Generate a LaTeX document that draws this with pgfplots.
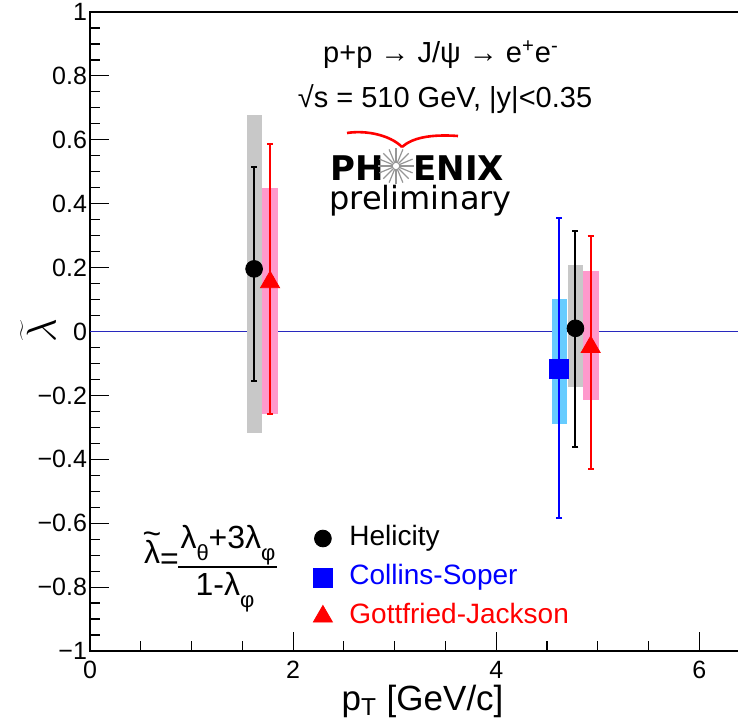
\documentclass[border=0pt]{standalone}
\usepackage{fontspec}
\setmainfont{Liberation Sans}
\newfontfamily\djv{DejaVu Sans}
\usepackage{pgfplots}
\pgfplotsset{compat=1.18}
\usepackage{pgfplotstable}
\definecolor{boxgray}{RGB}{200,200,200}
\definecolor{boxpink}{RGB}{255,153,204}
\definecolor{boxblue}{RGB}{102,204,255}
\definecolor{starg}{RGB}{150,150,150}
\definecolor{zline}{RGB}{40,40,190}
\newcommand\rsub[1]{\raisebox{-0.38em}{\fontsize{11}{11}\selectfont #1}}
\newcommand\tfont{\fontsize{12.5}{12.5}\selectfont}

% x, y, sys+, sys-, stat+, stat-
\pgfplotstableread{
x y sp sm ep em
1.616 0.196 0.482 0.514 0.318 0.352
4.78 0.01 0.197 0.185 0.303 0.370
}\hel
\pgfplotstableread{
x y sp sm ep em
4.62 -0.116 0.219 0.172 0.470 0.469
}\cs
\pgfplotstableread{
x y sp sm ep em
1.773 0.163 0.287 0.421 0.423 0.421
4.93 -0.04 0.228 0.173 0.340 0.390
}\gj

\begin{document}
\begin{tikzpicture}
\path[use as bounding box] (0,0) rectangle (369pt,361.5pt);
\begin{axis}[
  at={(45pt,36pt)}, anchor=south west,
  scale only axis, width=326pt, height=319.5pt,
  xmin=0, xmax=6.42, ymin=-1, ymax=1,
  axis line style={line width=0.8pt},
  xtick={0,2,4,6}, xticklabels={0,2,4,6}, minor x tick num=3,
  ytick={-1,-0.8,-0.6,-0.4,-0.2,0,0.2,0.4,0.6,0.8,1},
  yticklabels={−1,−0.8,−0.6,−0.4,−0.2,0,0.2,0.4,0.6,0.8,1},
  minor y tick num=3,
  xtick pos=bottom, ytick pos=left, tick align=inside,
  major tick length=9.5pt, minor tick length=5pt,
  every tick/.style={black, line width=0.6pt},
  yticklabel style={font=\tfont, xshift=2pt},
  xticklabel style={font=\tfont, yshift=-1.5pt},
  xlabel={p\textsubscript{T} [GeV/c]},
  every axis x label/.style={at={(axis description cs:0.51,0)}, anchor=base, yshift=-29.5pt, font=\fontsize{17.5}{17.5}\selectfont},
  legend style={at={(axis description cs:0.342,0.197)}, anchor=north west, draw=none, fill=none,
    inner sep=0pt, row sep=6.5pt, column sep=8.5pt, font=\fontsize{14}{16}\selectfont,
    nodes={inner sep=0pt, text height=10pt, text depth=3pt}},
  legend cell align=left,
]
\addplot[color=zline, line width=0.8pt, mark=none, forget plot] coordinates {(0,0) (6.42,0)};
% systematic boxes
\addplot[only marks, mark=none, forget plot, error bars/.cd, y dir=both, y explicit, error mark=none,
  error bar style={draw=boxgray, line width=7.5pt}]
  table[x=x, y=y, y error plus=sp, y error minus=sm] {\hel};
\addplot[only marks, mark=none, forget plot, error bars/.cd, y dir=both, y explicit, error mark=none,
  error bar style={draw=boxblue, line width=7.5pt}]
  table[x=x, y=y, y error plus=sp, y error minus=sm] {\cs};
\addplot[only marks, mark=none, forget plot, error bars/.cd, y dir=both, y explicit, error mark=none,
  error bar style={draw=boxpink, line width=8pt}]
  table[x=x, y=y, y error plus=sp, y error minus=sm] {\gj};
% statistical errors and points
\addplot[only marks, mark=*, black, mark size=4.2pt, forget plot, error bars/.cd, y dir=both, y explicit,
  error bar style={line width=1pt}, error mark options={rotate=90, black, mark size=1.5pt, line width=1pt}]
  table[x=x, y=y, y error plus=ep, y error minus=em] {\hel};
\addplot[only marks, mark=square*, blue, mark size=4.75pt, forget plot, error bars/.cd, y dir=both, y explicit,
  error bar style={line width=1pt}, error mark options={rotate=90, blue, mark size=1.5pt, line width=1pt}]
  table[x=x, y=y, y error plus=ep, y error minus=em] {\cs};
\addplot[only marks, mark=triangle*, red, mark size=5.5pt, mark options={yshift=-1.4pt}, forget plot, error bars/.cd, y dir=both, y explicit,
  error bar style={line width=1pt}, error mark options={rotate=90, red, mark size=1.5pt, line width=1pt}]
  table[x=x, y=y, y error plus=ep, y error minus=em] {\gj};
% legend
\addlegendimage{only marks, mark=*, black, mark size=4.2pt}
\addlegendentry{Helicity}
\addlegendimage{only marks, mark=square*, blue, mark size=4.75pt}
\addlegendentry{\textcolor{blue}{Collins-Soper}}
\addlegendimage{only marks, mark=triangle*, red, mark size=5.5pt}
\addlegendentry{\textcolor{red}{Gottfried-Jackson}}
\end{axis}

\begin{scope}[x=0.5pt, y=-0.5pt, shift={(0pt,361.5pt)}]
% y axis label (rotated)
\node[rotate=90, inner sep=0, font=\fontsize{21}{21}\selectfont] at (38,331) {$\widetilde{\lambda}$};
\node[anchor=base, inner sep=0, font=\fontsize{14.5}{14.5}\selectfont] at (441,63)
  {p+p → J/ψ → e\textsuperscript{+}e\textsuperscript{-}};
\node[anchor=base, inner sep=0, font=\fontsize{14.5}{14.5}\selectfont] at (445,108)
  {√s = 510 GeV, |y|<0.35};
% PHENIX logo
\draw[red, line width=1.3pt] (347,133) .. controls (366,130) and (390,135) .. (402,147);
\draw[red, line width=1.3pt] (402,147) .. controls (412,138) and (430,134) .. (458,136);
\node[anchor=base west, inner sep=0, font=\djv\bfseries\fontsize{17}{17}\selectfont] at (330,181) {PH};
\foreach \a in {0,22.5,...,337.5} \draw[starg, line width=0.6pt] (396,166) ++(\a:3) -- ++(\a:15);
\node[anchor=base west, inner sep=0, font=\djv\bfseries\fontsize{17}{17}\selectfont] at (413,181) {ENIX};
\node[anchor=base west, inner sep=0, font=\djv\fontsize{16}{16}\selectfont] at (329,210) {preliminary};
% formula
\begin{scope}[every node/.style={inner sep=0, font=\fontsize{16}{16}\selectfont}]
\node[anchor=base] at (152,563) {λ};
\node[anchor=center] at (152,538) {\textasciitilde};
\node[anchor=center] at (169.5,562) {=};
\node[anchor=base] at (228,548) {λ\rsub{θ}+3λ\rsub{φ}};
\draw[line width=0.8pt] (178,567) -- (277,567);
\node[anchor=base] at (225,595) {1-λ\rsub{φ}};
\end{scope}
\end{scope}
\end{tikzpicture}
\end{document}
